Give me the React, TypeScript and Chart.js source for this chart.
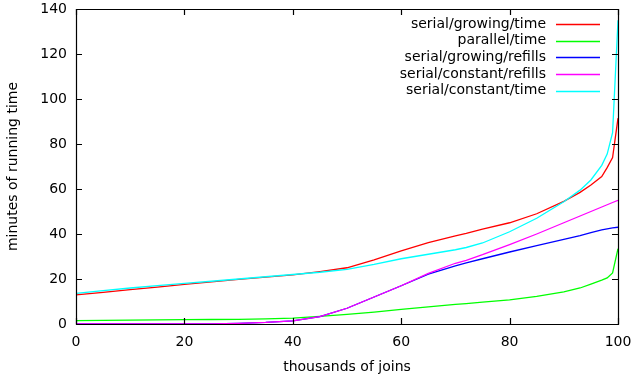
import React, { useEffect, useRef } from "react";
import { Chart, registerables } from "chart.js";

Chart.register(...registerables);

const xs = [0, 5, 10, 15, 20, 25, 30, 35, 40, 45, 50, 55, 60, 65, 70, 72, 75, 80, 85, 90, 93, 95, 97, 98, 99, 100];
const serialGrowingTime = [12.9, 14.1, 15.3, 16.4, 17.6, 18.7, 19.8, 20.8, 21.8, 23.3, 25.0, 28.5, 32.5, 36.2, 39.2, 40.3, 42.2, 45.0, 49.0, 54.5, 58.5, 61.8, 65.5, 69.5, 74.0, 91.5];
const parallelTime = [1.5, 1.6, 1.7, 1.8, 1.9, 2.0, 2.1, 2.3, 2.6, 3.4, 4.3, 5.3, 6.5, 7.6, 8.7, 9.1, 9.7, 10.7, 12.3, 14.3, 16.0, 17.7, 19.5, 20.5, 22.7, 33.5];
const serialGrowingRefills = [0, 0, 0, 0, 0, 0.1, 0.3, 0.7, 1.4, 3.3, 7.0, 12.0, 17.0, 22.2, 25.8, 27.2, 29.0, 32.0, 34.8, 37.6, 39.3, 40.6, 41.8, 42.3, 42.7, 43.0];
const serialConstantRefills = [0, 0, 0, 0, 0, 0.1, 0.3, 0.7, 1.4, 3.3, 7.0, 12.0, 17.0, 22.5, 27.0, 28.3, 30.8, 35.3, 40.0, 45.0, 48.0, 50.0, 52.0, 53.0, 54.0, 55.0];
const serialConstantTime = [13.6, 14.8, 16.0, 17.1, 18.1, 19.0, 20.0, 21.0, 22.0, 23.0, 24.3, 26.5, 29.0, 31.0, 33.0, 34.0, 36.0, 41.0, 47.0, 54.3, 59.5, 64.0, 70.5, 75.5, 85.0, 135.0];

const seriesLabels = [
  "serial/growing/time",
  "parallel/time",
  "serial/growing/refills",
  "serial/constant/refills",
  "serial/constant/time",
];
const seriesColors = ["#ff0000", "#00ff00", "#0000ff", "#ff00ff", "#00ffff"];
const seriesValues = [serialGrowingTime, parallelTime, serialGrowingRefills, serialConstantRefills, serialConstantTime];

const xTicks = [0, 20, 40, 60, 80, 100];
const yTicks = [0, 20, 40, 60, 80, 100, 120, 140];

const FONT = "'DejaVu Sans', sans-serif";

const framePlugin = {
  id: "gnuplotFrame",
  afterDraw(chart: any) {
    const { ctx, chartArea } = chart;
    const { left, right, top, bottom } = chartArea;
    const xs_ = chart.scales.x;
    const ys_ = chart.scales.y;
    ctx.save();
    ctx.strokeStyle = "#000";
    ctx.lineWidth = 1.2;
    const tl = 6;
    ctx.beginPath();
    xTicks.forEach((v) => {
      const px = Math.round(xs_.getPixelForValue(v)) + 0.5;
      ctx.moveTo(px, bottom);
      ctx.lineTo(px, bottom - tl);
      ctx.moveTo(px, top);
      ctx.lineTo(px, top + tl);
    });
    yTicks.forEach((v) => {
      const py = Math.round(ys_.getPixelForValue(v)) + 0.5;
      ctx.moveTo(left, py);
      ctx.lineTo(left + tl, py);
      ctx.moveTo(right, py);
      ctx.lineTo(right - tl, py);
    });
    ctx.stroke();
    ctx.beginPath();
    ctx.rect(Math.round(left) + 0.5, Math.round(top) + 0.5, Math.round(right - left), Math.round(bottom - top));
    ctx.stroke();

    // legend
    ctx.font = `14px ${FONT}`;
    ctx.textAlign = "right";
    ctx.textBaseline = "middle";
    chart.data.datasets.forEach((ds: any, i: number) => {
      const yy = 24 + i * 16.7;
      ctx.fillStyle = "#000";
      ctx.fillText(ds.label, 546, yy);
      ctx.strokeStyle = ds.borderColor;
      ctx.lineWidth = 1.3;
      ctx.beginPath();
      ctx.moveTo(556, Math.round(yy) + 0.5);
      ctx.lineTo(600, Math.round(yy) + 0.5);
      ctx.stroke();
    });
    ctx.restore();
  },
};

export default function App() {
  const ref = useRef<HTMLCanvasElement>(null);
  useEffect(() => {
    if (!ref.current) return;
    const datasets = seriesValues.map((vals, i) => ({
      label: seriesLabels[i],
      data: xs.map((x, j) => ({ x, y: vals[j] })),
      borderColor: seriesColors[i],
      backgroundColor: seriesColors[i],
      borderWidth: 1.3,
      pointRadius: 0,
      tension: 0,
      fill: false,
      order: seriesValues.length - i,
    }));
    const chart = new Chart(ref.current, {
      type: "line",
      data: { datasets },
      options: {
        responsive: false,
        animation: false,
        layout: { padding: { left: 0, right: 16, top: 9, bottom: 0 } },
        plugins: { legend: { display: false }, tooltip: { enabled: false } },
        scales: {
          x: {
            type: "linear",
            min: 0,
            max: 100,
            afterFit: (s: any) => {
              s.height = 51;
              s.paddingLeft = 0;
              s.paddingRight = 0;
            },
            afterBuildTicks: (s: any) => {
              s.ticks = xTicks.map((v) => ({ value: v }));
            },
            grid: { display: false, drawTicks: false },
            border: { display: false },
            ticks: { color: "#000", font: { family: FONT, size: 14 }, padding: 10, maxRotation: 0 },
            title: {
              display: true,
              text: "thousands of joins",
              color: "#000",
              font: { family: FONT, size: 14 },
              padding: { top: 0, bottom: -1 },
            },
          },
          y: {
            type: "linear",
            min: 0,
            max: 140,
            afterFit: (s: any) => {
              s.width = 76;
              s.paddingTop = 0;
              s.paddingBottom = 0;
            },
            afterBuildTicks: (s: any) => {
              s.ticks = yTicks.map((v) => ({ value: v }));
            },
            grid: { display: false, drawTicks: false },
            border: { display: false },
            ticks: { color: "#000", font: { family: FONT, size: 14 }, padding: 9 },
            title: {
              display: true,
              text: "minutes of running time",
              color: "#000",
              font: { family: FONT, size: 14 },
              padding: { top: 5, bottom: 0 },
            },
          },
        },
      },
      plugins: [framePlugin],
    });
    return () => chart.destroy();
  }, []);
  return (
    <div style={{ position: "absolute", left: 0, top: 0, width: 634, height: 375, background: "#fff" }}>
      <canvas ref={ref} width={634} height={375} style={{ display: "block" }} />
    </div>
  );
}
